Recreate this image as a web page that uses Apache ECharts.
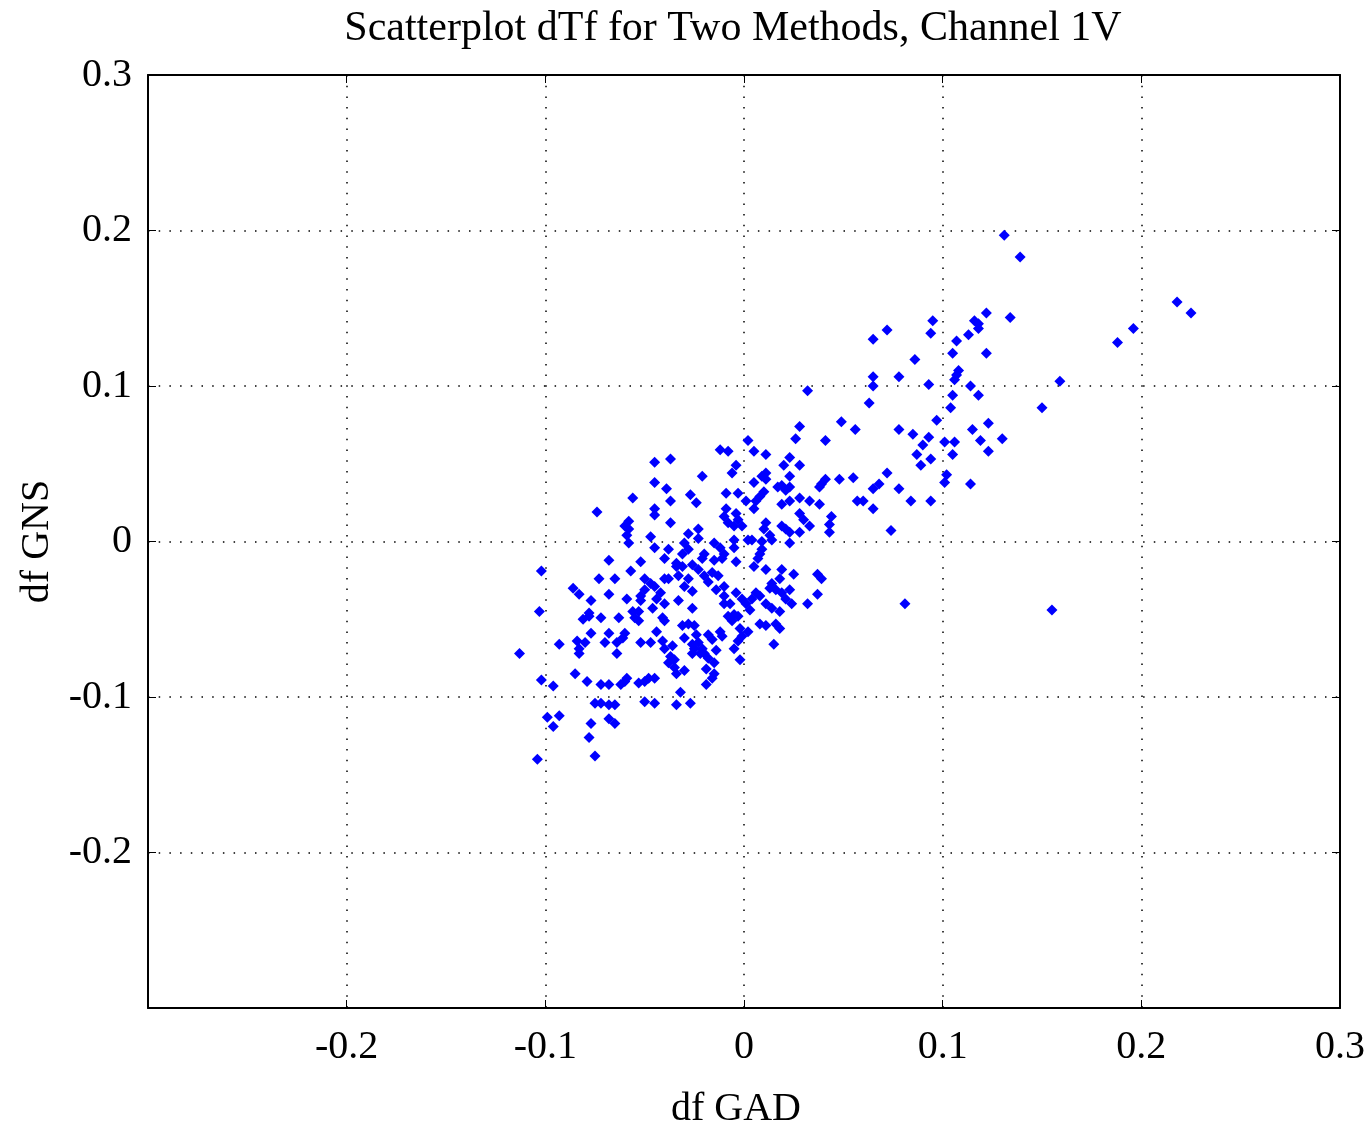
<!DOCTYPE html>
<html>
<head>
<meta charset="utf-8">
<script src="https://cdn.jsdelivr.net/npm/echarts@6/dist/echarts.min.js"></script>
<style>
html,body{margin:0;padding:0;background:#fff;}
#chart{width:1369px;height:1134px;}
</style>
</head>
<body>
<div id="chart"></div>
<script>
var titleText = 'Scatterplot dTf for Two Methods, Channel 1V';
var xAxisName = 'df GAD';
var yAxisName = 'df GNS';
var xTickValues = [-0.3, -0.2, -0.1, 0, 0.1, 0.2, 0.3];
var xTickLabels = ['', '-0.2', '-0.1', '0', '0.1', '0.2', '0.3'];
var yTickValues = [-0.3, -0.2, -0.1, 0, 0.1, 0.2, 0.3];
var yTickLabels = ['', '-0.2', '-0.1', '0', '0.1', '0.2', '0.3'];

var dfGAD = [
0.131,0.139,0.218,0.225,0.196,0.188,0.122,0.134,0.116,0.118,0.118,0.095,0.094,0.072,0.065,0.113,0.107,0.105,0.122,0.086,
0.108,0.107,0.106,0.078,0.065,0.065,0.093,0.114,0.159,0.105,0.118,0.063,0.104,0.150,0.049,0.056,0.078,0.097,0.085,0.093,
0.115,0.123,0.130,0.119,0.101,0.106,0.090,0.105,0.123,0.087,0.094,0.089,0.102,0.101,0.114,0.072,0.055,0.048,0.068,0.065,
0.078,0.057,0.060,0.084,0.094,0.065,0.074,0.081,0.155,
0.032,0.028,0.026,0.041,0.002,-0.012,-0.008,0.005,0.011,0.023,0.020,0.028,-0.004,-0.006,-0.021,0.011,0.009,0.011,0.023,0.005,
0.017,0.019,0.023,0.021,0.041,0.039,0.038,-0.027,-0.024,-0.009,-0.003,0.010,0.008,0.006,0.005,0.001,0.019,0.023,0.028,0.033,
0.038,-0.009,-0.010,-0.008,-0.004,-0.003,-0.001,-0.005,0.028,0.030,0.033,0.044,0.043,0.043,0.011,0.010,0.013,0.014,0.019,0.021,
0.023,0.028,-0.028,-0.023,-0.023,-0.005,0.002,0.004,0.009,0.023,-0.028,-0.020,-0.012,-0.010,0.009,0.008,
-0.021,-0.015,-0.011,-0.026,-0.023,-0.020,-0.018,-0.004,0.005,0.011,0.019,0.025,0.037,0.039,-0.028,-0.014,-0.010,-0.010,-0.010,-0.026,
-0.004,-0.001,0.001,0.003,0.004,0.006,0.008,0.011,0.013,0.016,0.019,0.014,0.018,0.023,0.021,0.024,0.014,0.018,0.032,0.037,
-0.008,-0.005,-0.006,0.008,0.011,0.016,0.018,-0.002,-0.001,-0.003,-0.005,0.002,-0.011,0.015,-0.002,-0.031,-0.028,-0.025,-0.024,-0.030,
-0.018,-0.016,-0.026,-0.023,-0.025,-0.021,-0.020,-0.018,-0.015,-0.019,-0.015,-0.016,-0.019,-0.030,-0.027,
-0.045,-0.037,-0.045,-0.039,-0.037,-0.056,-0.045,-0.045,-0.037,-0.074,-0.058,-0.060,-0.058,-0.059,-0.058,-0.047,-0.045,-0.038,-0.040,-0.034,
-0.031,-0.068,-0.052,-0.057,-0.102,-0.073,-0.065,-0.086,-0.083,-0.068,-0.077,-0.059,-0.050,-0.047,-0.045,-0.050,-0.052,-0.052,-0.042,-0.044,
-0.040,-0.040,-0.038,-0.033,-0.034,-0.033,
-0.103,-0.081,-0.078,-0.078,-0.072,-0.063,-0.056,-0.055,-0.053,-0.046,-0.041,-0.040,-0.077,-0.068,-0.060,-0.061,-0.044,-0.093,-0.084,-0.083,
-0.083,-0.080,-0.070,-0.064,-0.064,-0.052,-0.047,-0.041,-0.040,-0.036,-0.037,-0.038,-0.035,-0.035,-0.034,-0.113,-0.085,-0.079,-0.072,-0.068,
-0.062,-0.059,-0.060,-0.053,-0.050,-0.048,-0.045,-0.102,-0.096,-0.075,-0.072,-0.068,-0.065,-0.050,-0.045,-0.034,-0.099,-0.093,-0.096,-0.068,
-0.065,-0.077,-0.078,-0.075,-0.104,
-0.030,-0.015,-0.005,-0.031,-0.016,-0.013,0.007,-0.030,-0.026,-0.053,-0.022,-0.026,-0.014,-0.012,-0.032,-0.007,-0.003
];
var dfGNS = [
0.197,0.183,0.154,0.147,0.137,0.128,0.147,0.144,0.142,0.140,0.137,0.142,0.134,0.136,0.130,0.133,0.129,0.121,0.121,0.117,
0.110,0.107,0.104,0.106,0.106,0.100,0.101,0.100,0.103,0.094,0.094,0.089,0.086,0.086,0.077,0.072,0.072,0.078,0.069,0.067,
0.072,0.076,0.066,0.065,0.064,0.064,0.062,0.056,0.058,0.056,0.053,0.049,0.043,0.038,0.037,0.044,0.041,0.040,0.037,0.034,
0.034,0.026,0.026,0.026,0.026,0.021,0.007,-0.040,-0.044,
0.097,0.074,0.066,0.065,0.065,0.059,0.058,0.058,0.056,0.054,0.049,0.049,0.049,0.044,0.042,0.044,0.042,0.040,0.042,0.038,
0.035,0.036,0.035,0.033,0.040,0.037,0.035,0.030,0.025,0.031,0.031,0.032,0.029,0.026,0.021,0.026,0.024,0.026,0.028,0.026,
0.024,0.021,0.016,0.012,0.018,0.014,0.010,0.010,0.018,0.014,0.010,0.016,0.011,0.006,0.012,0.008,0.004,0.001,0.010,0.008,
0.006,0.006,0.005,0.008,0.002,0.001,0.001,0.001,0.000,-0.001,-0.005,-0.008,-0.004,-0.008,-0.005,-0.008,
-0.011,-0.012,-0.011,-0.015,-0.018,-0.022,-0.026,-0.013,-0.016,-0.018,-0.018,-0.021,-0.021,-0.024,-0.024,-0.031,-0.029,-0.035,-0.040,-0.043,
-0.033,-0.037,-0.040,-0.044,-0.037,-0.033,-0.035,-0.040,-0.030,-0.031,-0.033,-0.027,-0.024,-0.031,-0.037,-0.040,-0.043,-0.045,-0.040,-0.034,
-0.048,-0.047,-0.051,-0.053,-0.054,-0.053,-0.056,-0.056,-0.061,-0.064,-0.069,-0.058,-0.061,-0.066,-0.076,-0.054,-0.053,-0.054,-0.060,-0.062,
-0.060,-0.063,-0.066,-0.065,-0.069,-0.069,-0.072,-0.075,-0.078,-0.082,-0.085,-0.088,-0.092,-0.083,-0.104,
0.051,0.053,0.038,0.034,0.026,0.028,0.021,0.017,0.012,0.019,0.013,0.010,0.008,0.004,-0.001,0.003,-0.004,-0.005,-0.011,-0.014,
-0.008,-0.012,-0.013,-0.019,-0.019,-0.024,-0.024,-0.030,-0.034,-0.034,-0.038,-0.037,-0.024,-0.027,-0.029,-0.031,-0.035,-0.038,-0.033,-0.037,
-0.040,-0.024,-0.024,-0.022,-0.016,-0.038,
-0.045,-0.050,-0.048,-0.046,-0.049,-0.049,-0.045,-0.049,-0.051,-0.043,-0.049,-0.051,-0.059,-0.059,-0.059,-0.062,-0.058,-0.066,-0.064,-0.069,
-0.072,-0.065,-0.065,-0.065,-0.072,-0.065,-0.065,-0.064,-0.069,-0.067,-0.074,-0.078,-0.076,-0.081,-0.085,-0.072,-0.085,-0.090,-0.092,-0.092,
-0.092,-0.088,-0.090,-0.091,-0.090,-0.088,-0.088,-0.089,-0.093,-0.104,-0.104,-0.105,-0.105,-0.103,-0.104,-0.105,-0.113,-0.112,-0.119,-0.114,
-0.117,-0.117,-0.126,-0.138,-0.140,
-0.001,-0.001,-0.004,-0.016,-0.020,-0.022,-0.011,-0.029,-0.032,-0.045,-0.072,-0.072,-0.070,-0.058,-0.097,-0.040,-0.048
];

var points = [];
for (var i = 0; i < Math.min(dfGAD.length, dfGNS.length); i++) {
  points.push([dfGAD[i], dfGNS[i]]);
}

function labelFor(values, labels) {
  return function (v) {
    for (var k = 0; k < values.length; k++) {
      if (Math.abs(values[k] - v) < 1e-9) return labels[k];
    }
    return '';
  };
}

var FONT = '"Liberation Serif", "Times New Roman", serif';
var dotted = { color: '#000', width: 1.5, type: [1.5, 9.2] };

var chart = echarts.init(document.getElementById('chart'));
chart.setOption({
  animation: false,
  backgroundColor: '#fff',
  title: {
    text: titleText,
    left: 728,
    textAlign: 'center',
    top: 3,
    textStyle: { fontFamily: FONT, fontSize: 42, fontWeight: 'normal', color: '#000' }
  },
  grid: { left: 148, right: 29, top: 75, bottom: 121, containLabel: false },
  xAxis: [{
    type: 'value', min: -0.3, max: 0.3, interval: 0.1, position: 'bottom',
    name: xAxisName, nameLocation: 'middle', nameGap: 81,
    nameTextStyle: { fontFamily: FONT, fontSize: 40, color: '#000', padding: [0, 16, 0, 0] },
    axisLine: { show: true, onZero: false, lineStyle: { color: '#000', width: 2 } },
    axisTick: { show: true, inside: true, length: 8, lineStyle: { color: '#000', width: 1 } },
    axisLabel: { fontFamily: FONT, fontSize: 40, color: '#000', margin: 19, formatter: labelFor(xTickValues, xTickLabels) },
    splitLine: { show: true, lineStyle: dotted }
  }, {
    type: 'value', min: -0.3, max: 0.3, interval: 0.1, position: 'top',
    axisLine: { show: true, onZero: false, lineStyle: { color: '#000', width: 2 } },
    axisTick: { show: true, inside: true, length: 8, lineStyle: { color: '#000', width: 1 } },
    axisLabel: { show: false },
    splitLine: { show: false }
  }],
  yAxis: [{
    type: 'value', min: -0.3, max: 0.3, interval: 0.1, position: 'left',
    name: yAxisName, nameLocation: 'middle', nameGap: 90, nameRotate: 90,
    nameTextStyle: { fontFamily: FONT, fontSize: 40, color: '#000' },
    axisLine: { show: true, onZero: false, lineStyle: { color: '#000', width: 2 } },
    axisTick: { show: true, inside: true, length: 8, lineStyle: { color: '#000', width: 1 } },
    axisLabel: { fontFamily: FONT, fontSize: 40, color: '#000', margin: 16, formatter: labelFor(yTickValues, yTickLabels) },
    splitLine: { show: true, lineStyle: dotted }
  }, {
    type: 'value', min: -0.3, max: 0.3, interval: 0.1, position: 'right',
    axisLine: { show: true, onZero: false, lineStyle: { color: '#000', width: 2 } },
    axisTick: { show: true, inside: true, length: 8, lineStyle: { color: '#000', width: 1 } },
    axisLabel: { show: false },
    splitLine: { show: false }
  }],
  series: [{
    type: 'scatter',
    xAxisIndex: 0, yAxisIndex: 0,
    symbol: 'diamond',
    symbolSize: 11,
    itemStyle: { color: '#0000ff', opacity: 1 },
    data: points
  }]
});
</script>
</body>
</html>
